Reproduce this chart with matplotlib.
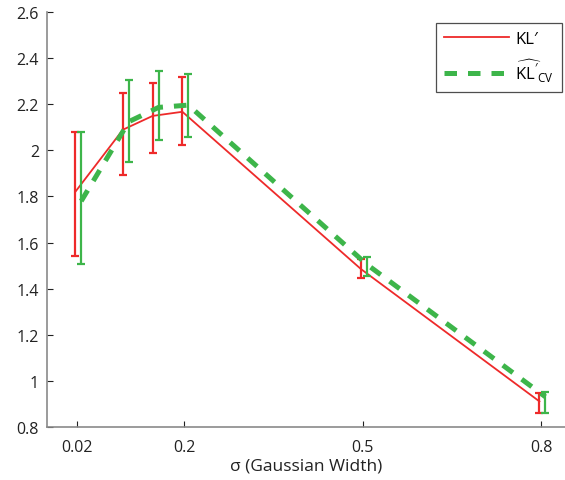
import matplotlib
matplotlib.use("Agg")
import matplotlib.pyplot as plt
import numpy as np

plt.rcParams["font.family"] = ["Open Sans", "DejaVu Sans"]
plt.rcParams["mathtext.fontset"] = "custom"
plt.rcParams["mathtext.rm"] = "Open Sans"
plt.rcParams["mathtext.sf"] = "Open Sans"

# Gaussian kernel widths and the two KL estimates with their error ranges
sigma = np.array([0.02, 0.1, 0.15, 0.2, 0.5, 0.8])

kl_mean = np.array([1.82, 2.09, 2.15, 2.168, 1.485, 0.91])
kl_lo = np.array([1.541, 1.895, 1.989, 2.024, 1.444, 0.859])
kl_hi = np.array([2.079, 2.249, 2.293, 2.318, 1.528, 0.946])

cv_mean = np.array([1.78, 2.125, 2.187, 2.197, 1.505, 0.93])
cv_lo = np.array([1.507, 1.948, 2.045, 2.057, 1.453, 0.861])
cv_hi = np.array([2.081, 2.307, 2.346, 2.332, 1.538, 0.949])

xticks = [0.02, 0.2, 0.5, 0.8]
yticks = [0.8, 1.0, 1.2, 1.4, 1.6, 1.8, 2.0, 2.2, 2.4, 2.6]
ytick_labels = ["0.8", "1", "1.2", "1.4", "1.6", "1.8", "2", "2.2", "2.4", "2.6"]

RED = "#EE2A2A"
GREEN = "#3DB54A"

fig = plt.figure(figsize=(5.65, 4.81), dpi=100)
ax = fig.add_axes([0.0837, 0.1108, 0.9163, 0.8615])

# shift the two series apart a little so the bars do not overlap
x_red = sigma - 0.003
x_green = sigma + 0.007

ax.plot(x_red, kl_mean, color=RED, lw=1.3, label="KL\u2032", zorder=2)
ax.errorbar(x_red, kl_mean, yerr=[kl_mean - kl_lo, kl_hi - kl_mean], fmt="none",
            ecolor=RED, elinewidth=1.6, capsize=3.2, capthick=1.6, zorder=2)

ax.plot(x_green, cv_mean, color=GREEN, lw=3.6, dashes=(2.5, 2.2),
        label=r"$\widehat{\mathrm{KL}'}_{\mathrm{CV}}$", zorder=3)
ax.errorbar(x_green, cv_mean, yerr=[cv_mean - cv_lo, cv_hi - cv_mean], fmt="none",
            ecolor=GREEN, elinewidth=1.6, capsize=3.2, capthick=1.6, zorder=3)

ax.set_xlim(-0.03, 0.84)
ax.set_ylim(0.8, 2.6)
ax.set_xticks(xticks)
ax.set_xticklabels(["0.02", "0.2", "0.5", "0.8"])
ax.set_yticks(yticks)
ax.set_yticklabels(ytick_labels)
ax.tick_params(direction="in", length=4, width=0.8, color="#222222",
               labelsize=11.5, labelcolor="#222222")
ax.tick_params(axis="x", pad=9)
ax.tick_params(axis="y", pad=6)
for side in ["top", "right"]:
    ax.spines[side].set_visible(False)
for side in ["left", "bottom"]:
    ax.spines[side].set_color("#8a8a8a")
    ax.spines[side].set_linewidth(1.2)

ax.set_xlabel("\u03c3 (Gaussian Width)", fontsize=12.5, color="#222222", labelpad=2)

leg = ax.legend(loc="upper right", bbox_to_anchor=(0.994, 0.975), fontsize=12,
                frameon=True, fancybox=False, handlelength=3.9, borderpad=0.5,
                labelspacing=0.55, handletextpad=0.35, borderaxespad=0.0)
leg.get_frame().set_edgecolor("#222222")
leg.get_frame().set_linewidth(0.9)

fig.savefig("out.png", dpi=100)
